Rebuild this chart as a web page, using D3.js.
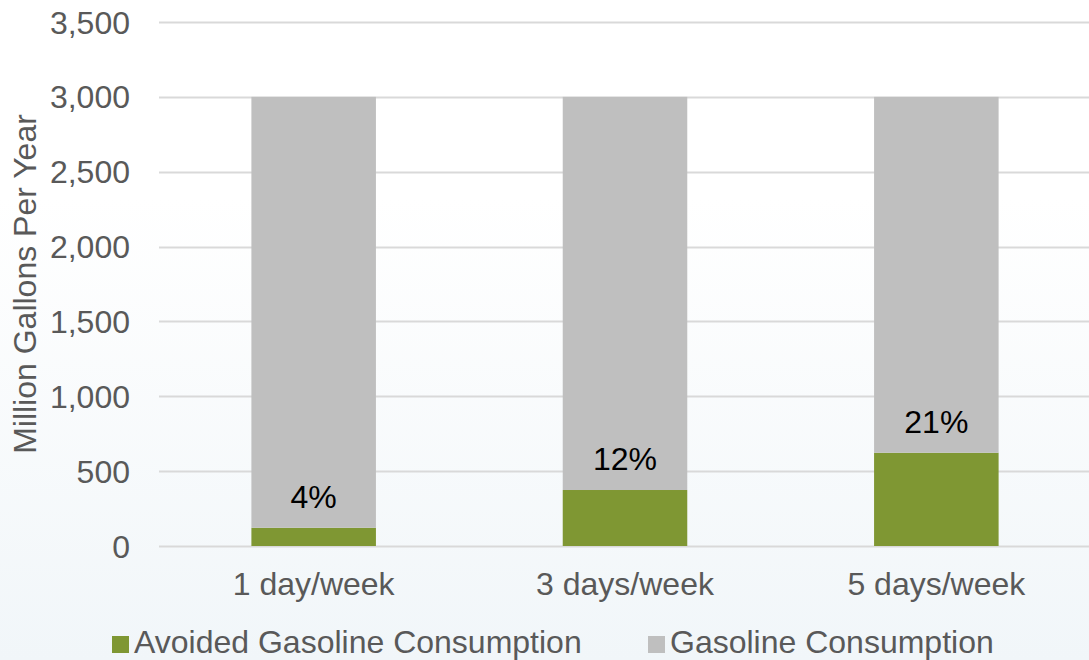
<!DOCTYPE html>
<html>
<head>
<meta charset="utf-8">
<script src="https://cdn.jsdelivr.net/npm/d3@7"></script>
<style>
  body { margin: 0; padding: 0; background: #fff; }
  svg { display: block; font-family: Arial, "Liberation Sans", sans-serif; }
</style>
</head>
<body>
<div id="chart"></div>
<script>
// data
var categories = ["1 day/week", "3 days/week", "5 days/week"];
var avoided = [122, 374, 623];
var gasoline = [2878, 2626, 2377];
var pctLabels = ["4%", "12%", "21%"];
var yTicks = [0, 500, 1000, 1500, 2000, 2500, 3000, 3500];
var seriesNames = ["Avoided Gasoline Consumption", "Gasoline Consumption"];
var seriesColors = ["#7F9733", "#BFBFBF"];

var svgWidth = 1089;
var svgHeight = 660;
var fontSize = "32px";

var margin = { top: 22, bottom: 114, left: 158, right: -3 };
var width = svgWidth - margin.left - margin.right;
var height = svgHeight - margin.top - margin.bottom;

var svg = d3.select("#chart").append("svg")
    .attr("width", svgWidth)
    .attr("height", svgHeight);

// background gradient
var defs = svg.append("defs");
var grad = defs.append("linearGradient")
    .attr("id", "bg")
    .attr("x1", 0).attr("y1", 0).attr("x2", 0).attr("y2", 1);
grad.append("stop").attr("offset", "0%").attr("stop-color", "#ffffff");
grad.append("stop").attr("offset", "30%").attr("stop-color", "#ffffff");
grad.append("stop").attr("offset", "100%").attr("stop-color", "#F1F6F9");

svg.append("rect")
    .attr("width", svgWidth)
    .attr("height", svgHeight)
    .attr("fill", "url(#bg)");

var chartGroup = svg.append("g")
    .attr("transform", `translate(${margin.left}, ${margin.top})`);

var xScale = d3.scaleBand()
    .domain(categories)
    .range([0, width])
    .paddingInner(0.6)
    .paddingOuter(0.3);

var yScale = d3.scaleLinear()
    .domain([0, 3500])
    .range([height, 0]);

// gridlines
chartGroup.selectAll(".grid")
    .data(yTicks)
    .enter()
    .append("line")
    .attr("x1", 1)
    .attr("x2", width)
    .attr("y1", d => Math.round(yScale(d)) + 0.5)
    .attr("y2", d => Math.round(yScale(d)) + 0.5)
    .attr("stroke", "#D9D9D9")
    .attr("stroke-width", 2);

// y tick labels
chartGroup.selectAll(".ytick")
    .data(yTicks)
    .enter()
    .append("text")
    .attr("x", -28)
    .attr("y", d => yScale(d))
    .attr("dy", "0.36em")
    .attr("text-anchor", "end")
    .attr("fill", "#595959")
    .style("font-size", fontSize)
    .text(d => d3.format(",")(d));

// stacked bars
var rows = categories.map(function(c, i) {
    return { cat: c, avoided: avoided[i], gasoline: gasoline[i] };
});
var stack = d3.stack().keys(["avoided", "gasoline"]);
var layers = stack(rows);

chartGroup.selectAll(".layer")
    .data(layers)
    .enter()
    .append("g")
    .attr("fill", (d, i) => seriesColors[i])
    .selectAll("rect")
    .data(d => d)
    .enter()
    .append("rect")
    .attr("x", d => xScale(d.data.cat))
    .attr("width", xScale.bandwidth())
    .attr("y", d => yScale(d[1]))
    .attr("height", d => yScale(d[0]) - yScale(d[1]));

// percent labels
chartGroup.selectAll(".pct")
    .data(rows)
    .enter()
    .append("text")
    .attr("x", d => xScale(d.cat) + xScale.bandwidth() / 2)
    .attr("y", d => yScale(d.avoided) - 20)
    .attr("text-anchor", "middle")
    .attr("fill", "#000")
    .style("font-size", fontSize)
    .text((d, i) => pctLabels[i]);

// category labels
chartGroup.selectAll(".xlab")
    .data(categories)
    .enter()
    .append("text")
    .attr("x", d => xScale(d) + xScale.bandwidth() / 2)
    .attr("y", height + 49)
    .attr("text-anchor", "middle")
    .attr("fill", "#595959")
    .style("font-size", fontSize)
    .text(d => d);

// y axis title
svg.append("text")
    .attr("transform", "rotate(-90)")
    .attr("x", -(margin.top + height / 2))
    .attr("y", 36)
    .attr("text-anchor", "middle")
    .attr("fill", "#595959")
    .style("font-size", fontSize)
    .text("Million Gallons Per Year");

// legend
var legendX = [112, 648];
var legend = svg.selectAll(".legend")
    .data(seriesNames)
    .enter()
    .append("g")
    .attr("transform", (d, i) => `translate(${legendX[i]}, 636)`);

legend.append("rect")
    .attr("width", 17)
    .attr("height", 17)
    .attr("fill", (d, i) => seriesColors[i]);

legend.append("text")
    .attr("x", 22)
    .attr("y", 17)
    .attr("fill", "#595959")
    .style("font-size", fontSize)
    .text(d => d);
</script>
</body>
</html>
